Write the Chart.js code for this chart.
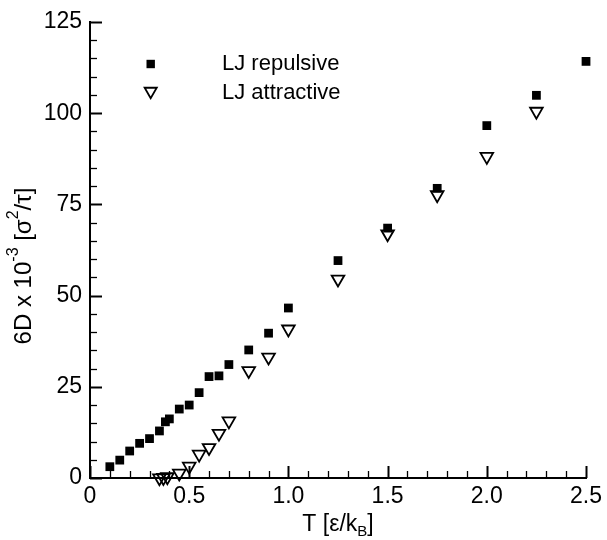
<!DOCTYPE html>
<html>
<head>
<meta charset="utf-8">
<script src="https://cdn.jsdelivr.net/npm/chart.js@4.4.1/dist/chart.umd.min.js"></script>
<style>
  html, body { margin: 0; padding: 0; background: #fff; }
  #chart { display: block; }
</style>
</head>
<body>
<canvas id="chart" width="607" height="540"></canvas>
<script>
// LJ repulsive (filled squares)
const tRepulsive = [0.1, 0.15, 0.2, 0.25, 0.3, 0.35, 0.38, 0.4, 0.45, 0.5, 0.55, 0.6, 0.65, 0.7, 0.8, 0.9, 1.0, 1.25, 1.5, 1.75, 2.0, 2.25, 2.5];
const dRepulsive = [3.1, 4.9, 7.4, 9.5, 10.8, 12.9, 15.4, 16.2, 18.9, 20.0, 23.4, 27.8, 28.0, 31.1, 35.1, 39.7, 46.6, 59.6, 68.5, 79.4, 96.6, 104.9, 114.2];

// LJ attractive (open down triangles)
const tAttractive = [0.35, 0.37, 0.39, 0.45, 0.5, 0.55, 0.6, 0.65, 0.7, 0.8, 0.9, 1.0, 1.25, 1.5, 1.75, 2.0, 2.25];
const dAttractive = [0.0, 0.1, 0.3, 1.3, 3.2, 6.5, 8.3, 12.2, 15.6, 29.4, 33.1, 40.8, 54.5, 66.9, 77.6, 88.1, 100.5];

const xTicks = [0, 0.5, 1, 1.5, 2, 2.5];
const yTicks = [0, 25, 50, 75, 100, 125];

const FONT = "'Liberation Sans', Arial, Helvetica, sans-serif";

// inward major/minor ticks like the original plot
const inwardTicks = {
    id: 'inwardTicks',
    beforeDatasetsDraw(chart) {
        const { ctx, chartArea: a, scales: { x, y } } = chart;
        ctx.save();
        ctx.strokeStyle = '#000';
        for (let i = 0; i <= 25; i++) {
            const major = i % 5 === 0;
            const px = Math.round(x.getPixelForValue(i / 10)) + 0.5;
            ctx.lineWidth = major ? 2 : 1.3;
            ctx.beginPath();
            ctx.moveTo(px, a.bottom);
            ctx.lineTo(px, a.bottom - (major ? 12 : 7));
            ctx.stroke();
        }
        for (let i = 0; i <= 25; i++) {
            const major = i % 5 === 0;
            const py = Math.round(y.getPixelForValue(i * 5)) + 0.5;
            ctx.lineWidth = major ? 2 : 1.3;
            ctx.beginPath();
            ctx.moveTo(a.left, py);
            ctx.lineTo(a.left + (major ? 12 : 7), py);
            ctx.stroke();
        }
        ctx.restore();
    }
};

// text with super/subscripts, centred on (0,0)
function drawRich(ctx, parts, size) {
    const small = Math.round(size * 0.65);
    let total = 0;
    parts.forEach(p => {
        ctx.font = (p.sup || p.sub ? small : size) + 'px ' + FONT;
        p.w = ctx.measureText(p.t).width;
        total += p.w;
    });
    let cx = -total / 2;
    parts.forEach(p => {
        ctx.font = (p.sup || p.sub ? small : size) + 'px ' + FONT;
        const dy = p.sup ? -size * 0.42 : (p.sub ? size * 0.28 : 0);
        ctx.fillText(p.t, cx, dy);
        cx += p.w;
    });
}

const labelsAndLegend = {
    id: 'labelsAndLegend',
    afterDraw(chart) {
        const { ctx, chartArea: a } = chart;
        ctx.save();
        ctx.fillStyle = '#000';
        ctx.textBaseline = 'middle';
        ctx.textAlign = 'left';

        // x title
        ctx.save();
        ctx.translate((a.left + a.right) / 2, 525);
        drawRich(ctx, [{ t: 'T [\u03b5/k' }, { t: 'B', sub: true }, { t: ']' }], 23);
        ctx.restore();

        // y title
        ctx.save();
        ctx.translate(24, 266);
        ctx.rotate(-Math.PI / 2);
        drawRich(ctx, [{ t: '6D x 10' }, { t: '-3', sup: true }, { t: ' [\u03c3' }, { t: '2', sup: true }, { t: '/\u03c4]' }], 24);
        ctx.restore();

        // legend
        ctx.font = '22px ' + FONT;
        ctx.fillRect(150.7 - 4.2, 64 - 4.2, 8.4, 8.4);
        ctx.fillText('LJ repulsive', 222, 64);
        const r = 7, tx = 150.7, ty = 93 - r / 4;
        ctx.beginPath();
        ctx.moveTo(tx, ty + r);
        ctx.lineTo(tx - r * Math.sqrt(3) / 2, ty - r / 2);
        ctx.lineTo(tx + r * Math.sqrt(3) / 2, ty - r / 2);
        ctx.closePath();
        ctx.lineWidth = 1.8;
        ctx.strokeStyle = '#000';
        ctx.stroke();
        ctx.fillText('LJ attractive', 222, 93);
        ctx.restore();
    }
};

new Chart(document.getElementById('chart'), {
    type: 'scatter',
    data: {
        datasets: [
            {
                label: 'LJ repulsive',
                data: tRepulsive.map((t, i) => ({ x: t, y: dRepulsive[i] })),
                pointStyle: 'rect',
                pointRadius: 6.2,
                pointHoverRadius: 6.2,
                backgroundColor: '#000',
                borderColor: '#000',
                borderWidth: 0,
                clip: false,
                order: 1
            },
            {
                label: 'LJ attractive',
                data: tAttractive.map((t, i) => ({ x: t, y: dAttractive[i] })),
                pointStyle: 'triangle',
                rotation: 180,
                pointRadius: 7.3,
                pointHoverRadius: 7.3,
                backgroundColor: 'rgba(255,255,255,0)',
                borderColor: '#000',
                borderWidth: 1.8,
                clip: false,
                order: 0
            }
        ]
    },
    options: {
        responsive: false,
        animation: false,
        layout: { padding: { left: 0, top: 22, right: 17, bottom: 0 } },
        plugins: {
            legend: { display: false },
            tooltip: { enabled: false }
        },
        scales: {
            x: {
                type: 'linear',
                min: 0,
                max: 2.5,
                afterBuildTicks: s => { s.ticks = xTicks.map(v => ({ value: v })); },
                afterFit: s => { s.height = 62; },
                grid: { display: false, drawTicks: false },
                border: { display: true, color: '#000', width: 2 },
                ticks: { color: '#000', padding: 5, maxRotation: 0, font: { family: FONT, size: 23 } }
            },
            y: {
                type: 'linear',
                min: 0,
                max: 125,
                afterBuildTicks: s => { s.ticks = yTicks.map(v => ({ value: v })); },
                afterFit: s => { s.width = 90; },
                grid: { display: false, drawTicks: false },
                border: { display: true, color: '#000', width: 2 },
                ticks: { color: '#000', padding: 8, font: { family: FONT, size: 23 } }
            }
        }
    },
    plugins: [inwardTicks, labelsAndLegend]
});
</script>
</body>
</html>
